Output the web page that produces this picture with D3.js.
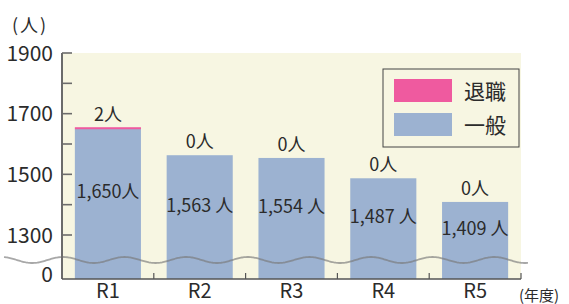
<!DOCTYPE html>
<meta charset="utf-8">
<head>
<style>
  body { margin: 0; background: #fff; }
  text { font-family: "Noto Sans CJK JP", "Noto Sans", sans-serif; fill: #2b2b2b; }
</style>
</head>
<body>
    <!-- Load d3.js -->
    <script src="https://d3js.org/d3.v7.min.js"></script>

    <!-- chart goes here -->
    <div id="my_dataviz"></div>

<script>
    // data
    const years = ["R1", "R2", "R3", "R4", "R5"];
    const general = [1650, 1563, 1554, 1487, 1409];   // 一般
    const retired = [2, 0, 0, 0, 0];                  // 退職
    const seriesNames = ["退職", "一般"];
    const yTickValues = [1300, 1400, 1500, 1600, 1700, 1800, 1900];
    const yTickLabels = [1300, 1500, 1700, 1900];

    const colPink = "#ef5a9f",
          colBlue = "#9cb2d1",
          colCream = "#f7f6e2";

    // set the dimensions and margins of the graph
    const margin = {top: 53, right: 48, bottom: 25, left: 62},
        width = 569 - margin.left - margin.right,
        height = 304 - margin.top - margin.bottom;

    const svg = d3.select("#my_dataviz")
      .append("svg")
        .attr("width", 569)
        .attr("height", 304)
      .append("g")
        .attr("transform", `translate(${margin.left}, ${margin.top})`);

    // plot background
    svg.append("rect")
      .attr("x", 0).attr("y", 0)
      .attr("width", width).attr("height", height)
      .attr("fill", colCream);

    // X scale
    const x = d3.scaleBand()
      .domain(years)
      .range([0, width])
      .paddingInner(0.28)
      .paddingOuter(0.14);

    // Y scale (broken axis: 0 at the bottom, 1300..1900 above)
    const y = d3.scaleLinear()
      .domain([1300, 1900])
      .range([height - 44, 0]);

    // bars - general
    svg.append("g")
      .selectAll("rect")
      .data(years)
      .join("rect")
        .attr("x", d => x(d))
        .attr("y", (d, i) => y(general[i]))
        .attr("width", x.bandwidth())
        .attr("height", (d, i) => height - y(general[i]))
        .attr("fill", colBlue);

    // bars - retired (stacked on top)
    svg.append("g")
      .selectAll("rect")
      .data(years.filter((d, i) => retired[i] > 0))
      .join("rect")
        .attr("x", d => x(d))
        .attr("y", d => {
          const i = years.indexOf(d);
          return y(general[i] + retired[i]) - 1;
        })
        .attr("width", x.bandwidth())
        .attr("height", d => {
          const i = years.indexOf(d);
          return Math.max(2, y(general[i]) - y(general[i] + retired[i]));
        })
        .attr("fill", colPink);

    // wavy break line
    const waveY = height - 19, amp = 3, wl = 61.6;
    const wavePts = d3.range(-58, width + 8, 1);
    svg.append("path")
      .attr("d", d3.line()(wavePts.map(px => [px, waveY - amp * Math.cos(2 * Math.PI * (px - 1) / wl)])))
      .attr("fill", "none")
      .attr("stroke", "#7a7a7a")
      .attr("stroke-opacity", 0.65)
      .attr("stroke-width", 1.8);

    // Y axis (inward ticks)
    const yAxis = svg.append("g");
    yAxis.append("line")
      .attr("x1", 0).attr("x2", 0)
      .attr("y1", 0).attr("y2", height)
      .attr("stroke", "#6b6b6b").attr("stroke-width", 2);
    yAxis.selectAll(".ytick")
      .data(yTickValues)
      .join("line")
        .attr("x1", 0).attr("x2", 10)
        .attr("y1", d => y(d)).attr("y2", d => y(d))
        .attr("stroke", "#6b6b6b").attr("stroke-width", 1.6);
    yAxis.selectAll(".ylab")
      .data(yTickLabels)
      .join("text")
        .attr("x", -9)
        .attr("y", d => y(d))
        .attr("dy", "0.36em")
        .attr("text-anchor", "end")
        .style("font-size", "21px")
        .text(d => d);
    yAxis.append("text")
      .attr("x", -9).attr("y", height)
      .attr("dy", "0.15em")
      .attr("text-anchor", "end")
      .style("font-size", "21px")
      .text("0");

    // X axis
    const xAxis = svg.append("g").attr("transform", `translate(0, ${height})`);
    xAxis.append("line")
      .attr("x1", 0).attr("x2", width)
      .attr("stroke", "#555").attr("stroke-width", 1.5);
    xAxis.selectAll(".xtick")
      .data(years)
      .join("line")
        .attr("x1", (d, i) => x.step() * (i + 1)).attr("x2", (d, i) => x.step() * (i + 1))
        .attr("y1", 0).attr("y2", -6)
        .attr("stroke", "#555").attr("stroke-width", 1.2);
    xAxis.selectAll(".xlab")
      .data(years)
      .join("text")
        .attr("x", d => x(d) + x.bandwidth() / 2)
        .attr("y", 19)
        .attr("text-anchor", "middle")
        .style("font-size", "20px")
        .text(d => d);

    // labels on top of bars (retired count)
    svg.append("g")
      .selectAll("text")
      .data(years)
      .join("text")
        .attr("x", d => x(d) + x.bandwidth() / 2)
        .attr("y", (d, i) => y(general[i] + retired[i]) - 7)
        .attr("text-anchor", "middle")
        .style("font-size", "18px")
        .text((d, i) => retired[i] + "人");

    // labels inside bars (general count)
    svg.append("g")
      .selectAll("text")
      .data(years)
      .join("text")
        .attr("x", d => x(d) + x.bandwidth() / 2)
        .attr("y", (d, i) => (y(general[i]) + y(1300) + 20) / 2)
        .attr("dy", "0.36em")
        .attr("text-anchor", "middle")
        .style("font-size", "18px")
        .text((d, i) => d3.format(",")(general[i]) + (i === 0 ? "人" : " 人"));

    // unit labels
    svg.append("text")
      .attr("x", -32).attr("y", -21)
      .attr("text-anchor", "middle")
      .style("font-size", "18px")
      .style("letter-spacing", "2px")
      .text("(人)");
    svg.append("text")
      .attr("x", width - 2).attr("y", height + 22)
      .style("font-size", "15px")
      .text("(年度)");

    // legend
    const legend = svg.append("g").attr("transform", `translate(${321}, ${16})`);
    legend.append("rect")
      .attr("width", 136).attr("height", 78)
      .attr("fill", colCream)
      .attr("stroke", "#444").attr("stroke-width", 1);
    legend.selectAll("rect.sw")
      .data(seriesNames)
      .join("rect")
        .attr("class", "sw")
        .attr("x", 11)
        .attr("y", (d, i) => 10 + i * 34)
        .attr("width", 58).attr("height", 23)
        .attr("fill", (d, i) => i === 0 ? colPink : colBlue);
    legend.selectAll("text")
      .data(seriesNames)
      .join("text")
        .attr("x", 81)
        .attr("y", (d, i) => 22 + i * 34)
        .attr("dy", "0.36em")
        .style("font-size", "21px")
        .text(d => d);
</script>
</body>
